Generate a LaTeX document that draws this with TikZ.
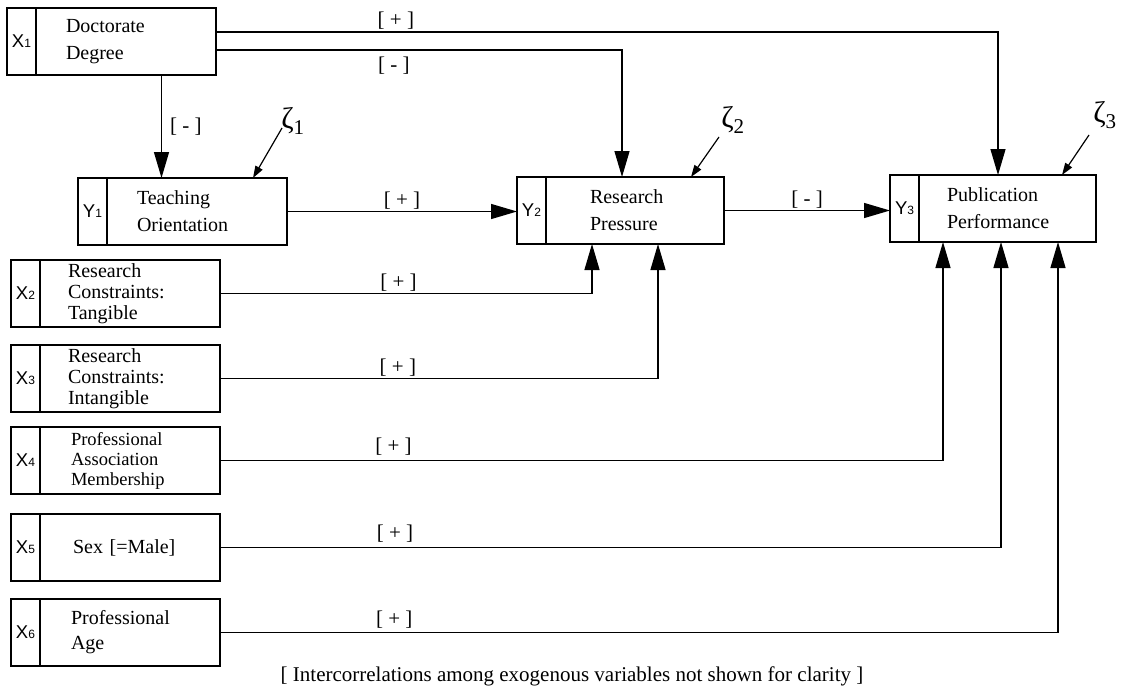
\documentclass[tikz,border=0pt]{standalone}
\usepackage{fontspec}
\setmainfont{Liberation Serif}
\newfontfamily\tagfont{Liberation Sans}
\usetikzlibrary{arrows.meta, positioning}
\newcommand{\tagidx}[1]{{\fontsize{12}{12}\selectfont #1}}

\begin{document}
\begin{tikzpicture}[x=1pt, y=-1pt,
  tagbox/.style={rectangle, draw, line width=1.3pt, minimum width=29pt, minimum height=67pt, inner sep=0pt, outer sep=0pt, font=\tagfont\fontsize{18.5}{18.5}\selectfont},
  varbox/.style={rectangle, draw, line width=1.3pt, minimum height=67pt, inner xsep=30pt, text width=120pt, align=left, outer sep=0pt, font=\fontsize{20}{27}\selectfont},
  sign/.style={font=\fontsize{21}{21}\selectfont, inner sep=2pt},
  link/.style={line width=1.3pt, -{Triangle[length=26pt, width=15pt]}},
  zeta/.style={font=\fontsize{30}{30}\selectfont, inner sep=0pt},
  zarr/.style={line width=1.2pt, -{Triangle[length=12pt, width=8pt]}}
]
\useasboundingbox (0,0) rectangle (1125,691);

% exogenous and endogenous variables
\node[tagbox, anchor=north west] (x1tag) at (7,8) {X\tagidx{1}};
\node[varbox, right=0pt of x1tag] (x1) {Doctorate\\Degree};

\node[tagbox, anchor=north west] (y1tag) at (78,178) {Y\tagidx{1}};
\node[varbox, right=0pt of y1tag] (y1) {Teaching\\Orientation};

\node[tagbox, anchor=north west] (y2tag) at (517,177) {Y\tagidx{2}};
\node[varbox, right=0pt of y2tag, inner xsep=44pt, text width=90pt] (y2) {Research\\Pressure};

\node[tagbox, anchor=north west] (y3tag) at (890,175) {Y\tagidx{3}};
\node[varbox, right=0pt of y3tag, inner xsep=28pt, text width=121pt] (y3) {Publication\\Performance};

\node[tagbox, anchor=north west] (x2tag) at (11,260) {X\tagidx{2}};
\node[varbox, right=0pt of x2tag, inner xsep=28pt, text width=124pt, font=\fontsize{20}{21}\selectfont] (x2) {Research\\Constraints:\\Tangible};

\node[tagbox, anchor=north west] (x3tag) at (11,345) {X\tagidx{3}};
\node[varbox, right=0pt of x3tag, inner xsep=28pt, text width=124pt, font=\fontsize{20}{21}\selectfont] (x3) {Research\\Constraints:\\Intangible};

\node[tagbox, anchor=north west] (x4tag) at (11,427) {X\tagidx{4}};
\node[varbox, right=0pt of x4tag, inner xsep=31pt, text width=118pt, font=\fontsize{18.5}{20}\selectfont] (x4) {Professional\\Association\\Membership};

\node[tagbox, anchor=north west] (x5tag) at (11,514) {X\tagidx{5}};
\node[varbox, right=0pt of x5tag, inner xsep=33pt, text width=114pt] (x5) {Sex [=Male]};

\node[tagbox, anchor=north west] (x6tag) at (11,599) {X\tagidx{6}};
\node[varbox, right=0pt of x6tag, inner xsep=31pt, text width=118pt, font=\fontsize{20}{25}\selectfont] (x6) {Professional\\Age};

% disturbances
\node[zeta] (z1) at (293,121) {ζ\textsubscript{1}};
\node[zeta] (z2) at (733,120) {ζ\textsubscript{2}};
\node[zeta] (z3) at (1105,115) {ζ\textsubscript{3}};

\draw[zarr] ([shift={(-11pt,-7pt)}]z1.center) -- ([xshift=56pt]y1.north);
\draw[zarr] ([shift={(-14pt,-17pt)}]z2.center) -- ([xshift=56pt]y2.north);
\draw[zarr] ([shift={(-16pt,-20pt)}]z3.center) -- ([xshift=54.5pt]y3.north);

% paths
\draw[link] ([yshift=-24pt]x1.north east) -| node[sign, above, pos=0.115] (s1) {[ + ]} ([xshift=-9.5pt]y3.north);
\draw[link] ([yshift=-42pt]x1.north east) -| node[sign, below, pos=0.219, yshift=-4pt] (s2) {[ - ]} ([xshift=-13pt]y2.north);
\draw[link] ([xshift=35.5pt]x1.south) -- ([xshift=35.5pt]x1.south |- y1.north) node[sign, right, midway, xshift=6pt] (s3) {[ - ]};

\draw[link] (y1.east) -- (y1.east -| y2tag.west) node[sign, above, midway] (s4) {[ + ]};
\draw[link] (y2.east) -- (y2.east -| y3tag.west) node[sign, above, midway] (s5) {[ - ]};

\draw[link] (x2.east) -| node[sign, above, pos=0.24] (s6) {[ + ]} ([xshift=-43pt]y2.south);
\draw[link] (x3.east) -| node[sign, above, pos=0.203] (s7) {[ + ]} ([xshift=23pt]y2.south);
\draw[link] (x4.east) -| node[sign, above, pos=0.12, yshift=3pt] (s8) {[ + ]} ([xshift=-64.5pt]y3.south);
\draw[link] (x5.east) -| node[sign, above, pos=0.112, yshift=3pt] (s9) {[ + ]} ([xshift=-6.5pt]y3.south);
\draw[link] (x6.east) -| node[sign, above, pos=0.104, yshift=2pt] (s10) {[ + ]} ([xshift=50.5pt]y3.south);

\node[font=\fontsize{21}{21}\selectfont] (note) at (572,676) {[ Intercorrelations among exogenous variables not shown for clarity ]};

\end{tikzpicture}
\end{document}
